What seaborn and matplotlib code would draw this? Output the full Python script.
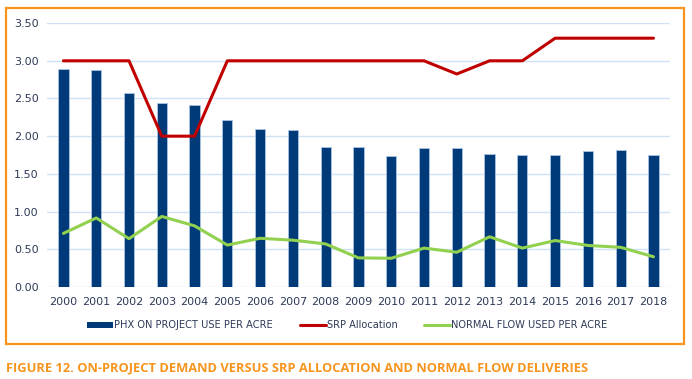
import numpy as np
import pandas as pd
import matplotlib
matplotlib.use("Agg")
import matplotlib.pyplot as plt
import seaborn as sns
from matplotlib.patches import Rectangle, Patch
from matplotlib.lines import Line2D

# values
years = [str(y) for y in range(2000, 2019)]
phx_use = [2.89, 2.875, 2.57, 2.445, 2.415, 2.21, 2.09, 2.08, 1.86, 1.855,
           1.735, 1.84, 1.84, 1.765, 1.755, 1.75, 1.805, 1.81, 1.745]
srp_alloc = [3.0, 3.0, 3.0, 2.0, 2.0, 3.0, 3.0, 3.0, 3.0, 3.0,
             3.0, 3.0, 2.825, 3.0, 3.0, 3.3, 3.3, 3.3, 3.3]
normal_flow = [0.71, 0.915, 0.64, 0.935, 0.81, 0.555, 0.645, 0.62, 0.57, 0.385,
               0.38, 0.515, 0.46, 0.665, 0.515, 0.615, 0.55, 0.525, 0.40]

df = pd.DataFrame({"year": years, "phx": phx_use, "srp": srp_alloc, "flow": normal_flow})
df["pos"] = np.arange(len(df))

navy = "#003A78"
red = "#C00000"
green = "#92D050"
orange = "#F7941D"
text_col = "#2E3A59"

sns.set_style("white")
plt.rcParams["font.family"] = ["DejaVu Sans"]

fig = plt.figure(figsize=(6.92, 3.79), dpi=100)
ax = fig.add_axes([0.068, 0.243, 0.900, 0.696])

sns.barplot(data=df, x="year", y="phx", color=navy, width=0.31,
            edgecolor="#A9C4E4", linewidth=0.6, saturation=1, ax=ax, zorder=2)
sns.lineplot(data=df, x="pos", y="srp", color=red, linewidth=2.2, ax=ax, zorder=3)
sns.lineplot(data=df, x="pos", y="flow", color=green, linewidth=2.2, ax=ax, zorder=3)

ax.set_xlim(-0.5, len(years) - 0.5)
ax.set_ylim(0, 3.5)
ax.set_yticks(np.arange(0, 3.51, 0.5))
ax.set_yticklabels([f"{v:.2f}" for v in np.arange(0, 3.51, 0.5)])
ax.set_xticks(df["pos"])
ax.set_xticklabels(years)
ax.tick_params(axis="both", length=0, labelsize=8, labelcolor=text_col)
ax.tick_params(axis="x", pad=7)
ax.tick_params(axis="y", pad=6)
ax.grid(axis="y", color="#CFE3F7", linewidth=1.0, zorder=0)
ax.set_axisbelow(True)
for s in ax.spines.values():
    s.set_visible(False)
ax.set_xlabel("")
ax.set_ylabel("")

handles = [
    Patch(facecolor=navy, edgecolor="none"),
    Line2D([], [], color=red, linewidth=2.2),
    Line2D([], [], color=green, linewidth=2.2),
]
labels = ["PHX ON PROJECT USE PER ACRE", "SRP Allocation", "NORMAL FLOW USED PER ACRE"]
fig.legend(handles, labels, loc="center", bbox_to_anchor=(0.502, 0.142), ncol=3,
           frameon=False, fontsize=7.1, handlelength=2.65, handleheight=0.55,
           handletextpad=0.1, columnspacing=2.7, labelcolor=text_col)

# orange frame around the chart
fig.patches.append(Rectangle((0.009, 0.092), 0.980, 0.888, transform=fig.transFigure,
                             fill=False, edgecolor=orange, linewidth=1.6))

fig.text(0.009, 0.028, "FIGURE 12. ON-PROJECT DEMAND VERSUS SRP ALLOCATION AND NORMAL FLOW DELIVERIES",
         color=orange, fontsize=9.3, fontweight="bold", family=["Open Sans", "DejaVu Sans"],
         ha="left", va="center")

fig.savefig("out.png", dpi=100)
